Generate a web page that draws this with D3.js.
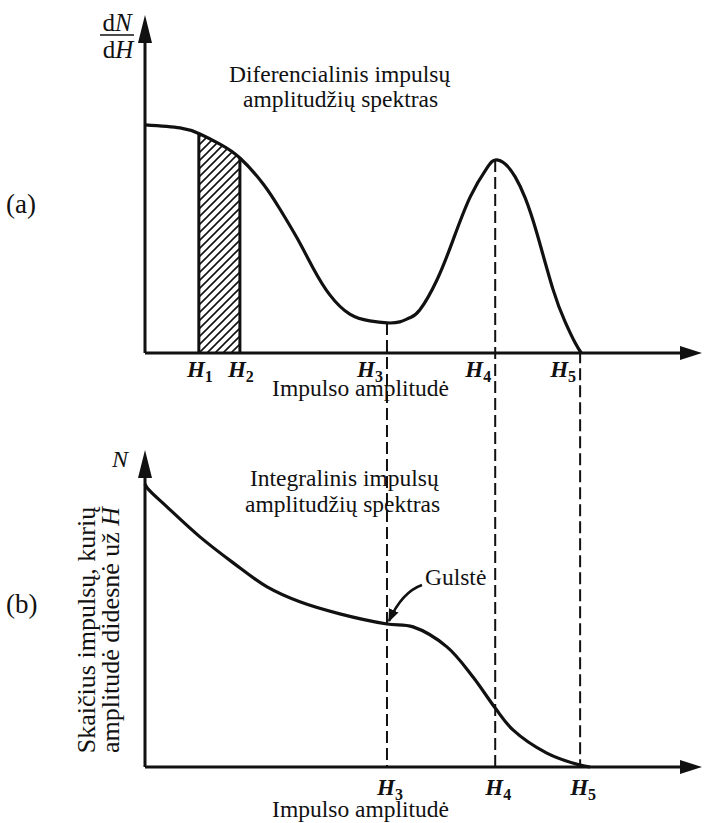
<!DOCTYPE html>
<html>
<head>
<meta charset="utf-8">
<script src="https://cdn.jsdelivr.net/npm/d3@7"></script>
<style>
  body { margin: 0; background: #fff; }
  svg text { font-family: "Liberation Serif", "Times New Roman", serif; fill: #111; }
</style>
</head>
<body>
<svg width="704" height="823"></svg>
<script>
// amplitude positions of the marked levels (0..100 scale of the x axis)
const hNames = ["1", "2", "3", "4", "5"];
const hPos = [9.7, 17.1, 43.6, 63.1, 78.4];

// (a) differential spectrum dN/dH
const diffX = [0, 6.3, 9.9, 13.5, 17.1, 21.3, 24.3, 27.4, 30.3, 33.3, 36.9, 40.5, 43.6, 45.9, 47.7, 49.5, 52.6, 55.5, 58.6, 61.6, 63.1, 64.9, 66.7, 68.5, 70.6, 73.5, 75.7, 77.5, 78.6];
const diffY = [67.5, 66.6, 64.8, 61.8, 57.7, 50.0, 42.6, 34.0, 25.1, 17.2, 11.5, 9.5, 8.9, 9.2, 10.4, 12.7, 21.6, 33.4, 46.2, 54.7, 57.1, 55.9, 52.1, 45.9, 35.5, 18.9, 9.2, 3.0, 0];

// (b) integral spectrum N
const intX = [0, 0.4, 4.0, 9.9, 15.9, 22.0, 27.9, 35.1, 43.6, 48.3, 54.4, 59.1, 63.1, 66.3, 72.4, 78.4, 80.2];
const intY = [89.3, 88.0, 82.0, 72.6, 64.4, 56.8, 52.1, 48.3, 45.1, 44.2, 37.9, 28.4, 18.6, 11.7, 4.4, 0.6, 0];

const svg = d3.select("svg");

const x = d3.scaleLinear().domain([0, 100]).range([145, 700]);
const yA = d3.scaleLinear().domain([0, 100]).range([353, 15]);
const yB = d3.scaleLinear().domain([0, 100]).range([767, 450]);

const diffData = diffX.map((v, i) => ({ x: v, y: diffY[i] }));
const intData = intX.map((v, i) => ({ x: v, y: intY[i] }));

const lineA = d3.line().x(d => x(d.x)).y(d => yA(d.y)).curve(d3.curveNatural);
const lineB = d3.line().x(d => x(d.x)).y(d => yB(d.y)).curve(d3.curveCatmullRom.alpha(0.5));
const areaA = d3.area().x(d => x(d.x)).y0(yA(0)).y1(d => yA(d.y)).curve(d3.curveNatural);

const defs = svg.append("defs");
defs.append("pattern")
  .attr("id", "hatch")
  .attr("patternUnits", "userSpaceOnUse")
  .attr("width", 8).attr("height", 8)
  .append("path")
  .attr("d", "M-2,2 l4,-4 M0,8 l8,-8 M6,10 l4,-4")
  .attr("stroke", "#111").attr("stroke-width", 1.6);
defs.append("clipPath").attr("id", "underA")
  .append("path").attr("d", areaA(diffData));
defs.append("marker")
  .attr("id", "ah").attr("viewBox", "0 0 10 10")
  .attr("refX", 9).attr("refY", 5)
  .attr("markerUnits", "userSpaceOnUse")
  .attr("markerWidth", 13).attr("markerHeight", 13)
  .attr("orient", "auto")
  .append("path").attr("d", "M0,1 L10,5 L0,9 Z").attr("fill", "#111");

// value of the (a) curve at a given amplitude, read from the drawn path
const pathA = svg.append("path").attr("d", lineA(diffData)).attr("fill", "none");
function curveYAt(px, pathNode) {
  const len = pathNode.getTotalLength();
  let lo = 0, hi = len;
  for (let k = 0; k < 40; k++) {
    const mid = (lo + hi) / 2;
    if (pathNode.getPointAtLength(mid).x < px) lo = mid; else hi = mid;
  }
  return pathNode.getPointAtLength(lo).y;
}
const pNode = pathA.node();

// hatched band H1..H2
svg.append("rect")
  .attr("x", x(hPos[0])).attr("y", yA(100))
  .attr("width", x(hPos[1]) - x(hPos[0])).attr("height", yA(0) - yA(100))
  .attr("fill", "url(#hatch)")
  .attr("clip-path", "url(#underA)");

// H1, H2 solid verticals
svg.selectAll(".hsolid")
  .data(hPos.slice(0, 2))
  .enter().append("line")
  .attr("x1", d => x(d)).attr("x2", d => x(d))
  .attr("y1", yA(0)).attr("y2", d => curveYAt(x(d), pNode))
  .attr("stroke", "#111").attr("stroke-width", 3);

// dashed drop lines H3..H5
svg.selectAll(".hdash")
  .data(hPos.slice(2))
  .enter().append("line")
  .attr("x1", d => x(d)).attr("x2", d => x(d))
  .attr("y1", d => curveYAt(x(d), pNode)).attr("y2", yB(0))
  .attr("stroke", "#111").attr("stroke-width", 2)
  .attr("stroke-dasharray", "12,5");

pathA.attr("stroke", "#111").attr("stroke-width", 3.2);

svg.append("path")
  .attr("d", lineB(intData))
  .attr("fill", "none").attr("stroke", "#111").attr("stroke-width", 3.2);

// axes with arrow heads
function drawAxes(y) {
  const x0 = x(0), y0 = y(0), xEnd = x(100) + 2, yEnd = y(100);
  svg.append("path")
    .attr("d", `M${x0},${y0} V${yEnd + 20} M${x0},${y0} H${xEnd - 18}`)
    .attr("stroke", "#111").attr("stroke-width", 3).attr("fill", "none");
  svg.append("path")
    .attr("d", `M${x0},${yEnd} L${x0 - 7},${yEnd + 28} L${x0 + 7},${yEnd + 28} Z`)
    .attr("fill", "#111");
  svg.append("path")
    .attr("d", `M${xEnd},${y0} L${xEnd - 22},${y0 - 7} L${xEnd - 22},${y0 + 7} Z`)
    .attr("fill", "#111");
}
drawAxes(yA);
drawAxes(yB);

// H labels
function hLabel(g, i) {
  const t = g.append("text").attr("font-size", 23);
  t.append("tspan").text("H").attr("font-style", "italic").attr("font-weight", "bold");
  t.append("tspan").text(hNames[i]).attr("font-size", 16).attr("font-weight", "bold").attr("dy", 5);
  return t;
}
hPos.forEach((h, i) => {
  const t = hLabel(svg, i);
  if (i < 2) t.attr("x", x(h) + 1).attr("text-anchor", "middle").attr("y", yA(0) + 24);
  else t.attr("x", x(h) - 4).attr("text-anchor", "end").attr("y", yA(0) + 24);
});
hPos.slice(2).forEach((h, j) => {
  hLabel(svg, j + 2).attr("x", x(h) + 3).attr("text-anchor", "middle").attr("y", yB(0) + 28);
});

// axis titles
svg.append("text").attr("x", 449).attr("y", yA(0) + 43).attr("text-anchor", "end")
  .attr("font-size", 23.5).text("Impulso amplitudė");
svg.append("text").attr("x", 449).attr("y", yB(0) + 50).attr("text-anchor", "end")
  .attr("font-size", 23.5).text("Impulso amplitudė");

// dN/dH
const frac = svg.append("g").attr("font-size", 25);
const num = frac.append("text").attr("x", 117).attr("y", 31).attr("text-anchor", "middle");
num.append("tspan").text("d");
num.append("tspan").text("N").attr("font-style", "italic");
const den = frac.append("text").attr("x", 118).attr("y", 58).attr("text-anchor", "middle");
den.append("tspan").text("d");
den.append("tspan").text("H").attr("font-style", "italic");
frac.append("line").attr("x1", 100).attr("x2", 134).attr("y1", 35).attr("y2", 35)
  .attr("stroke", "#111").attr("stroke-width", 1.5);

svg.append("text").attr("x", 120).attr("y", yB(100) + 17).attr("text-anchor", "middle")
  .attr("font-size", 24).attr("font-style", "italic").text("N");

// chart titles
svg.append("text").attr("x", 229).attr("y", 82).attr("font-size", 23.5).text("Diferencialinis impulsų");
svg.append("text").attr("x", 243).attr("y", 107).attr("font-size", 23.5).text("amplitudžių spektras");
svg.append("text").attr("x", 250).attr("y", 486).attr("font-size", 23.5).text("Integralinis impulsų");
svg.append("text").attr("x", 245).attr("y", 512).attr("font-size", 23.5).text("amplitudžių spektras");

// panel letters
svg.append("text").attr("x", 6).attr("y", 213).attr("font-size", 27).text("(a)");
svg.append("text").attr("x", 6).attr("y", 613).attr("font-size", 27).text("(b)");

// rotated y label of (b)
const yl = svg.append("text").attr("transform", "translate(95,630) rotate(-90)")
  .attr("text-anchor", "middle").attr("font-size", 26);
yl.append("tspan").attr("x", 0).attr("y", 0).text("Skaičius impulsų, kurių");
const yl2 = yl.append("tspan").attr("x", 0).attr("y", 24);
yl2.append("tspan").text("amplitudė didesnė už ");
yl2.append("tspan").text("H").attr("font-style", "italic");

// plateau annotation
const ax = x(hPos[2]), ay = yB(45.1);
svg.append("path")
  .attr("d", `M${ax + 35},${ay - 39} Q${ax + 15},${ay - 32} ${ax + 2},${ay - 3}`)
  .attr("fill", "none").attr("stroke", "#111").attr("stroke-width", 2.5)
  .attr("marker-end", "url(#ah)");
svg.append("text").attr("x", ax + 38).attr("y", ay - 39)
  .attr("font-size", 23.5).text("Gulstė");
</script>
</body>
</html>
